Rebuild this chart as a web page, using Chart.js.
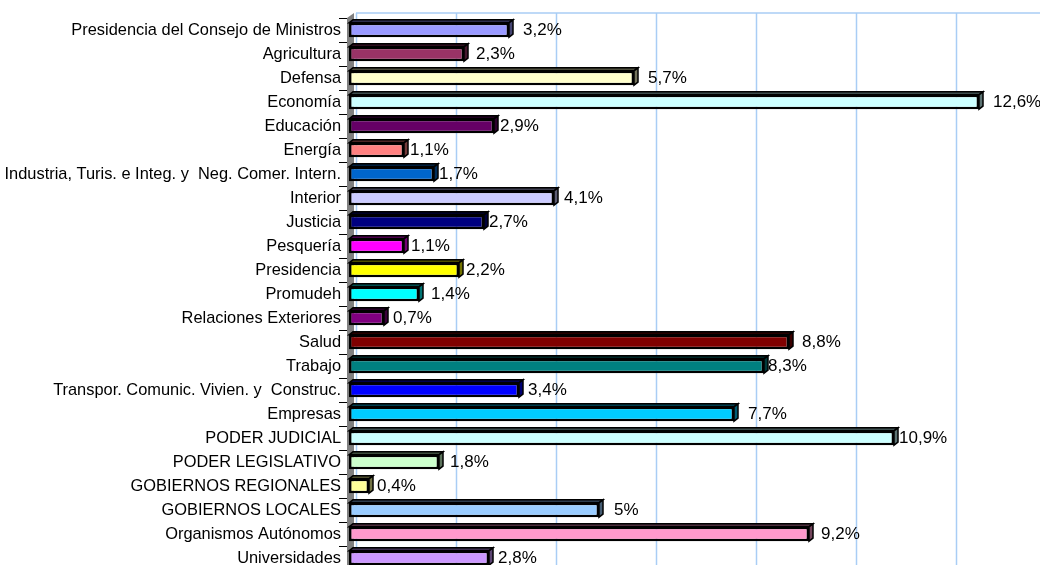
<!DOCTYPE html>
<html lang="es">
<head>
<meta charset="UTF-8">
<title>Chart</title>
<style>
  html, body { margin: 0; padding: 0; background: #fff; overflow: hidden; }
  #wrap { width: 1060px; height: 580px; }
</style>
</head>
<body>
<div id="wrap"><canvas id="barChart"></canvas></div>
<script src="https://cdn.jsdelivr.net/npm/chart.js"></script>
<script>
const categories = [
  "Presidencia del Consejo de Ministros", "Agricultura", "Defensa", "Economía",
  "Educación", "Energía", "Industria, Turis. e Integ. y  Neg. Comer. Intern.",
  "Interior", "Justicia", "Pesquería", "Presidencia", "Promudeh",
  "Relaciones Exteriores", "Salud", "Trabajo", "Transpor. Comunic. Vivien. y  Construc.",
  "Empresas", "PODER JUDICIAL", "PODER LEGISLATIVO", "GOBIERNOS REGIONALES",
  "GOBIERNOS LOCALES", "Organismos Autónomos", "Universidades"
];
const values = [3.2, 2.3, 5.7, 12.6, 2.9, 1.1, 1.7, 4.1, 2.7, 1.1, 2.2, 1.4,
  0.7, 8.8, 8.3, 3.4, 7.7, 10.9, 1.8, 0.4, 5, 9.2, 2.8];
const barColors = [
  "#9999FF", "#993366", "#FFFFCC", "#CCFFFF", "#660066", "#FF8080", "#0066CC",
  "#CCCCFF", "#000080", "#FF00FF", "#FFFF00", "#00FFFF", "#800080", "#800000",
  "#008080", "#0000FF", "#00CCFF", "#CCFFFF", "#CCFFCC", "#FFFF99", "#99CCFF",
  "#FF99CC", "#CC99FF"
];
// gap between bar end and its value label (px)
const labelGaps = [10, 8, 10, 10, 2, 2, 1, 6, 1, 3, 3, 8, 5, 9, 0, 5, 10, 1, 7, 4, 11, 8, 5];

const DX = 4, DY = -3, WALL = 7;

function darken(hex, f) {
  let n = parseInt(hex.slice(1), 16);
  let r = Math.round(((n >> 16) & 255) * f);
  let g = Math.round(((n >> 8) & 255) * f);
  let b = Math.round((n & 255) * f);
  return `rgb(${r},${g},${b})`;
}

const wallPlugin = {
  id: 'wall',
  beforeDatasetsDraw(chart) {
    const { ctx, chartArea: a, scales: { x } } = chart;
    ctx.save();
    // back wall grid
    ctx.strokeStyle = '#A9CDF5';
    ctx.lineWidth = 1.5;
    for (let v = 0; v <= 14; v += 2) {
      let px = Math.round(x.getPixelForValue(v)) + WALL + 0.5;
      ctx.beginPath();
      ctx.moveTo(px, a.top - 5);
      ctx.lineTo(px, a.bottom);
      ctx.stroke();
    }
    ctx.beginPath();
    ctx.moveTo(a.left + WALL, a.top - 5);
    ctx.lineTo(a.right + 20, a.top - 5);
    ctx.stroke();
    // left side wall
    ctx.fillStyle = '#808080';
    ctx.beginPath();
    ctx.moveTo(a.left - 2, a.top);
    ctx.lineTo(a.left + WALL - 2, a.top - 5);
    ctx.lineTo(a.left + WALL - 2, a.bottom);
    ctx.lineTo(a.left - 2, a.bottom);
    ctx.closePath();
    ctx.fill();
    ctx.restore();
  }
};

const depthPlugin = {
  id: 'depth',
  afterDatasetsDraw(chart) {
    const { ctx } = chart;
    const meta = chart.getDatasetMeta(0);
    ctx.save();
    ctx.lineWidth = 1.5;
    ctx.strokeStyle = '#000';
    meta.data.forEach((bar, i) => {
      const p = bar.getProps(['x', 'y', 'base', 'height'], true);
      const x0 = p.base, x1 = p.x, y0 = p.y - p.height / 2, y1 = p.y + p.height / 2;
      // top face
      ctx.fillStyle = darken(barColors[i], 0.3);
      ctx.beginPath();
      ctx.moveTo(x0, y0);
      ctx.lineTo(x0 + DX, y0 + DY);
      ctx.lineTo(x1 + DX, y0 + DY);
      ctx.lineTo(x1, y0);
      ctx.closePath();
      ctx.fill();
      ctx.stroke();
      // right face
      ctx.fillStyle = darken(barColors[i], 0.45);
      ctx.beginPath();
      ctx.moveTo(x1, y0);
      ctx.lineTo(x1 + DX, y0 + DY);
      ctx.lineTo(x1 + DX, y1 + DY);
      ctx.lineTo(x1, y1);
      ctx.closePath();
      ctx.fill();
      ctx.stroke();
      // value label
      ctx.fillStyle = '#000';
      ctx.font = '17px "Liberation Sans", Arial, sans-serif';
      ctx.textAlign = 'left';
      ctx.textBaseline = 'middle';
      const txt = String(values[i]).replace('.', ',') + '%';
      ctx.fillText(txt, x1 + DX + labelGaps[i], p.y);
    });
    ctx.restore();
  }
};

const ctxEl = document.getElementById('barChart');
new Chart(ctxEl, {
  type: 'bar',
  data: {
    labels: categories,
    datasets: [{
      data: values,
      backgroundColor: barColors,
      borderColor: '#000',
      borderWidth: 2.5,
      borderSkipped: false,
      barPercentage: 0.6,
      categoryPercentage: 1
    }]
  },
  options: {
    indexAxis: 'y',
    responsive: true,
    maintainAspectRatio: false,
    animation: false,
    layout: { padding: { top: 18, bottom: 10, left: 0, right: 11 } },
    plugins: { legend: { display: false }, tooltip: { enabled: false } },
    scales: {
      x: {
        min: 0, max: 14,
        display: false
      },
      y: {
        afterFit: s => { s.width = 349; },
        border: { display: true, color: '#000', width: 1 },
        grid: { offset: true, drawOnChartArea: false, color: '#000', tickLength: 10 },
        ticks: {
          color: '#000',
          padding: -2,
          font: { family: '"Liberation Sans", Arial, sans-serif', size: 16.4 },
          autoSkip: false
        }
      }
    }
  },
  plugins: [wallPlugin, depthPlugin]
});
</script>
</body>
</html>
